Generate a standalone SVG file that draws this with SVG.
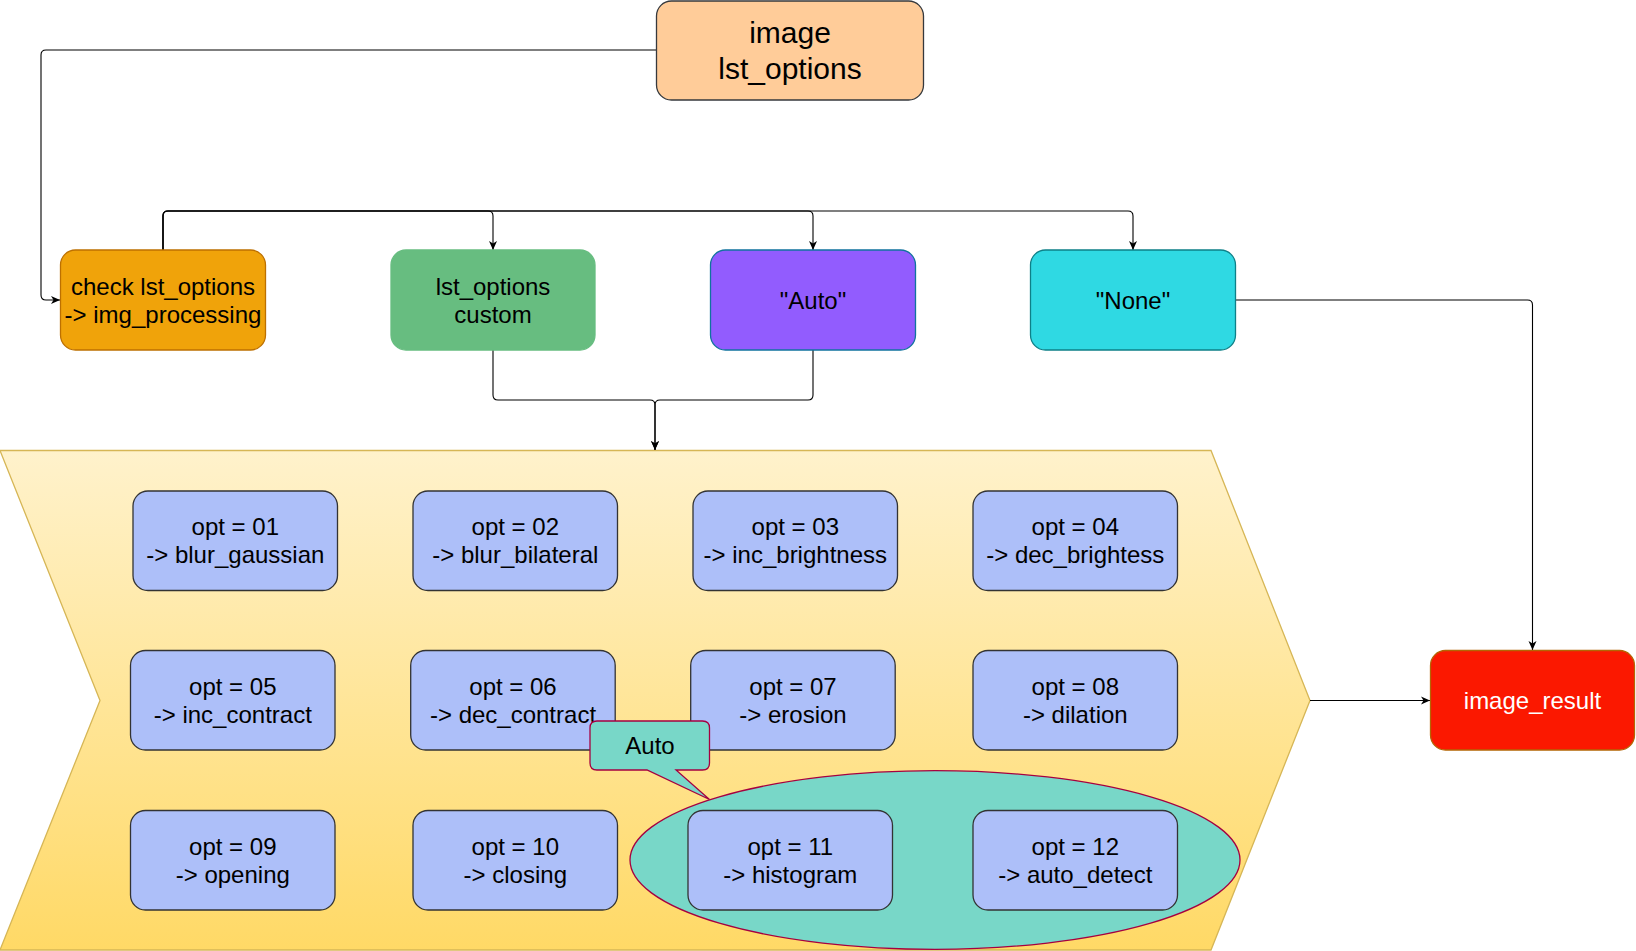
<svg xmlns="http://www.w3.org/2000/svg" width="1636" height="951" viewBox="0 0 1636 951">
<style>
.t{font-family:"Liberation Sans",Arial,Helvetica,sans-serif;font-size:24px;text-anchor:middle;fill:#000}
.big{font-size:30px}
.opt{fill:#adbff9;stroke:#333;stroke-width:1.3}
.edge{fill:none;stroke:#000;stroke-width:1.1}
</style>
<defs>
<linearGradient id="chev" x1="0" y1="0" x2="0" y2="1">
<stop offset="0" stop-color="#fff2cc"/>
<stop offset="1" stop-color="#ffd966"/>
</linearGradient>
<marker id="arr" markerUnits="userSpaceOnUse" markerWidth="10" markerHeight="10" viewBox="0 0 10 10" refX="9" refY="5" orient="auto">
<path d="M0,1 L9,5 L0,9 L2.5,5 Z" fill="#000"/>
</marker>
</defs>

<g id="process">
<polygon points="0,450.5 1211,450.5 1310,700.5 1211,950 0,950 100,700.5" fill="url(#chev)" stroke="#d6b656" stroke-width="1.3"/>
</g>
<g id="auto-group">
<ellipse cx="935" cy="860" rx="305" ry="89.3" fill="#78d7c8" stroke="#a50040" stroke-width="1.3"/>
</g>

<g id="connectors">
<path class="edge" d="M656,50 H46 Q41,50 41,55 V295 Q41,300 46,300 H60" marker-end="url(#arr)"/>
<path class="edge" d="M163,250 V216 Q163,211 168,211 H488 Q493,211 493,216 V250" marker-end="url(#arr)"/>
<path class="edge" d="M163,250 V216 Q163,211 168,211 H808 Q813,211 813,216 V250" marker-end="url(#arr)"/>
<path class="edge" d="M163,250 V216 Q163,211 168,211 H1128 Q1133,211 1133,216 V250" marker-end="url(#arr)"/>
<path class="edge" d="M493,350 V395 Q493,400 498,400 H650 Q655,400 655,405 V450" marker-end="url(#arr)"/>
<path class="edge" d="M813,350 V395 Q813,400 808,400 H660 Q655,400 655,405 V450" marker-end="url(#arr)"/>
<path class="edge" d="M1235.5,300 H1527.5 Q1532.5,300 1532.5,305 V650" marker-end="url(#arr)"/>
<path class="edge" d="M1310,700.5 H1430" marker-end="url(#arr)"/>
</g>

<g id="image">
<rect x="656.5" y="1" width="267" height="99" rx="15" fill="#ffcc99" stroke="#36393d" stroke-width="1.3"/>
<text class="t big" x="790" y="43">image</text>
<text class="t big" x="790" y="79">lst_options</text>
</g>
<g id="check">
<rect x="60.5" y="250" width="205" height="100" rx="15" fill="#f0a30a" stroke="#bd7000" stroke-width="1.3"/>
<text class="t" x="163" y="294.5">check lst_options</text>
<text class="t" x="163" y="322.5">-&gt; img_processing</text>
</g>
<g id="custom">
<rect x="391" y="250" width="204" height="100" rx="15" fill="#67bd80" stroke="#67bd80" stroke-width="1.3"/>
<text class="t" x="493" y="294.5">lst_options</text>
<text class="t" x="493" y="322.5">custom</text>
</g>
<g id="auto">
<rect x="710.5" y="250" width="205" height="100" rx="15" fill="#925cfe" stroke="#10739e" stroke-width="1.3"/>
<text class="t" x="813" y="308.5">"Auto"</text>
</g>
<g id="none">
<rect x="1030.5" y="250" width="205" height="100" rx="15" fill="#2fd9e3" stroke="#0e8088" stroke-width="1.3"/>
<text class="t" x="1133" y="308.5">"None"</text>
</g>
<g id="image_result">
<rect x="1430.5" y="650.5" width="204" height="99.5" rx="15" fill="#fb1800" stroke="#b46504" stroke-width="1.3"/>
<text class="t" x="1532.5" y="708.7" style="fill:#fff">image_result</text>
</g>

<g id="opt01"><rect class="opt" x="133" y="491" width="204.5" height="99.5" rx="15"/><text class="t" x="235.3" y="535.2">opt = 01</text><text class="t" x="235.3" y="563.2">-&gt; blur_gaussian</text></g>
<g id="opt02"><rect class="opt" x="413" y="491" width="204.5" height="99.5" rx="15"/><text class="t" x="515.3" y="535.2">opt = 02</text><text class="t" x="515.3" y="563.2">-&gt; blur_bilateral</text></g>
<g id="opt03"><rect class="opt" x="693" y="491" width="204.5" height="99.5" rx="15"/><text class="t" x="795.3" y="535.2">opt = 03</text><text class="t" x="795.3" y="563.2">-&gt; inc_brightness</text></g>
<g id="opt04"><rect class="opt" x="973" y="491" width="204.5" height="99.5" rx="15"/><text class="t" x="1075.3" y="535.2">opt = 04</text><text class="t" x="1075.3" y="563.2">-&gt; dec_brightess</text></g>
<g id="opt05"><rect class="opt" x="130.5" y="650.5" width="204.5" height="99.5" rx="15"/><text class="t" x="232.8" y="694.8">opt = 05</text><text class="t" x="232.8" y="722.8">-&gt; inc_contract</text></g>
<g id="opt06"><rect class="opt" x="410.7" y="650.5" width="204.5" height="99.5" rx="15"/><text class="t" x="513" y="694.8">opt = 06</text><text class="t" x="513" y="722.8">-&gt; dec_contract</text></g>
<g id="opt07"><rect class="opt" x="690.7" y="650.5" width="204.5" height="99.5" rx="15"/><text class="t" x="793" y="694.8">opt = 07</text><text class="t" x="793" y="722.8">-&gt; erosion</text></g>
<g id="opt08"><rect class="opt" x="973" y="650.5" width="204.5" height="99.5" rx="15"/><text class="t" x="1075.3" y="694.8">opt = 08</text><text class="t" x="1075.3" y="722.8">-&gt; dilation</text></g>
<g id="opt09"><rect class="opt" x="130.5" y="810.5" width="204.5" height="99.5" rx="15"/><text class="t" x="232.8" y="854.8">opt = 09</text><text class="t" x="232.8" y="882.8">-&gt; opening</text></g>
<g id="opt10"><rect class="opt" x="413" y="810.5" width="204.5" height="99.5" rx="15"/><text class="t" x="515.3" y="854.8">opt = 10</text><text class="t" x="515.3" y="882.8">-&gt; closing</text></g>
<g id="opt11"><rect class="opt" x="688" y="810.5" width="204.5" height="99.5" rx="15"/><text class="t" x="790.3" y="854.8">opt = 11</text><text class="t" x="790.3" y="882.8">-&gt; histogram</text></g>
<g id="opt12"><rect class="opt" x="973" y="810.5" width="204.5" height="99.5" rx="15"/><text class="t" x="1075.3" y="854.8">opt = 12</text><text class="t" x="1075.3" y="882.8">-&gt; auto_detect</text></g>

<g id="auto-callout">
<path d="M597,721 H702.5 Q709.5,721 709.5,728 V763 Q709.5,770 702.5,770 H676 L709.5,799.5 L647,770 H597 Q590,770 590,763 V728 Q590,721 597,721 Z" fill="#78d7c8" stroke="#a50040" stroke-width="1.3"/>
<text class="t" x="650" y="754">Auto</text>
</g>
</svg>
